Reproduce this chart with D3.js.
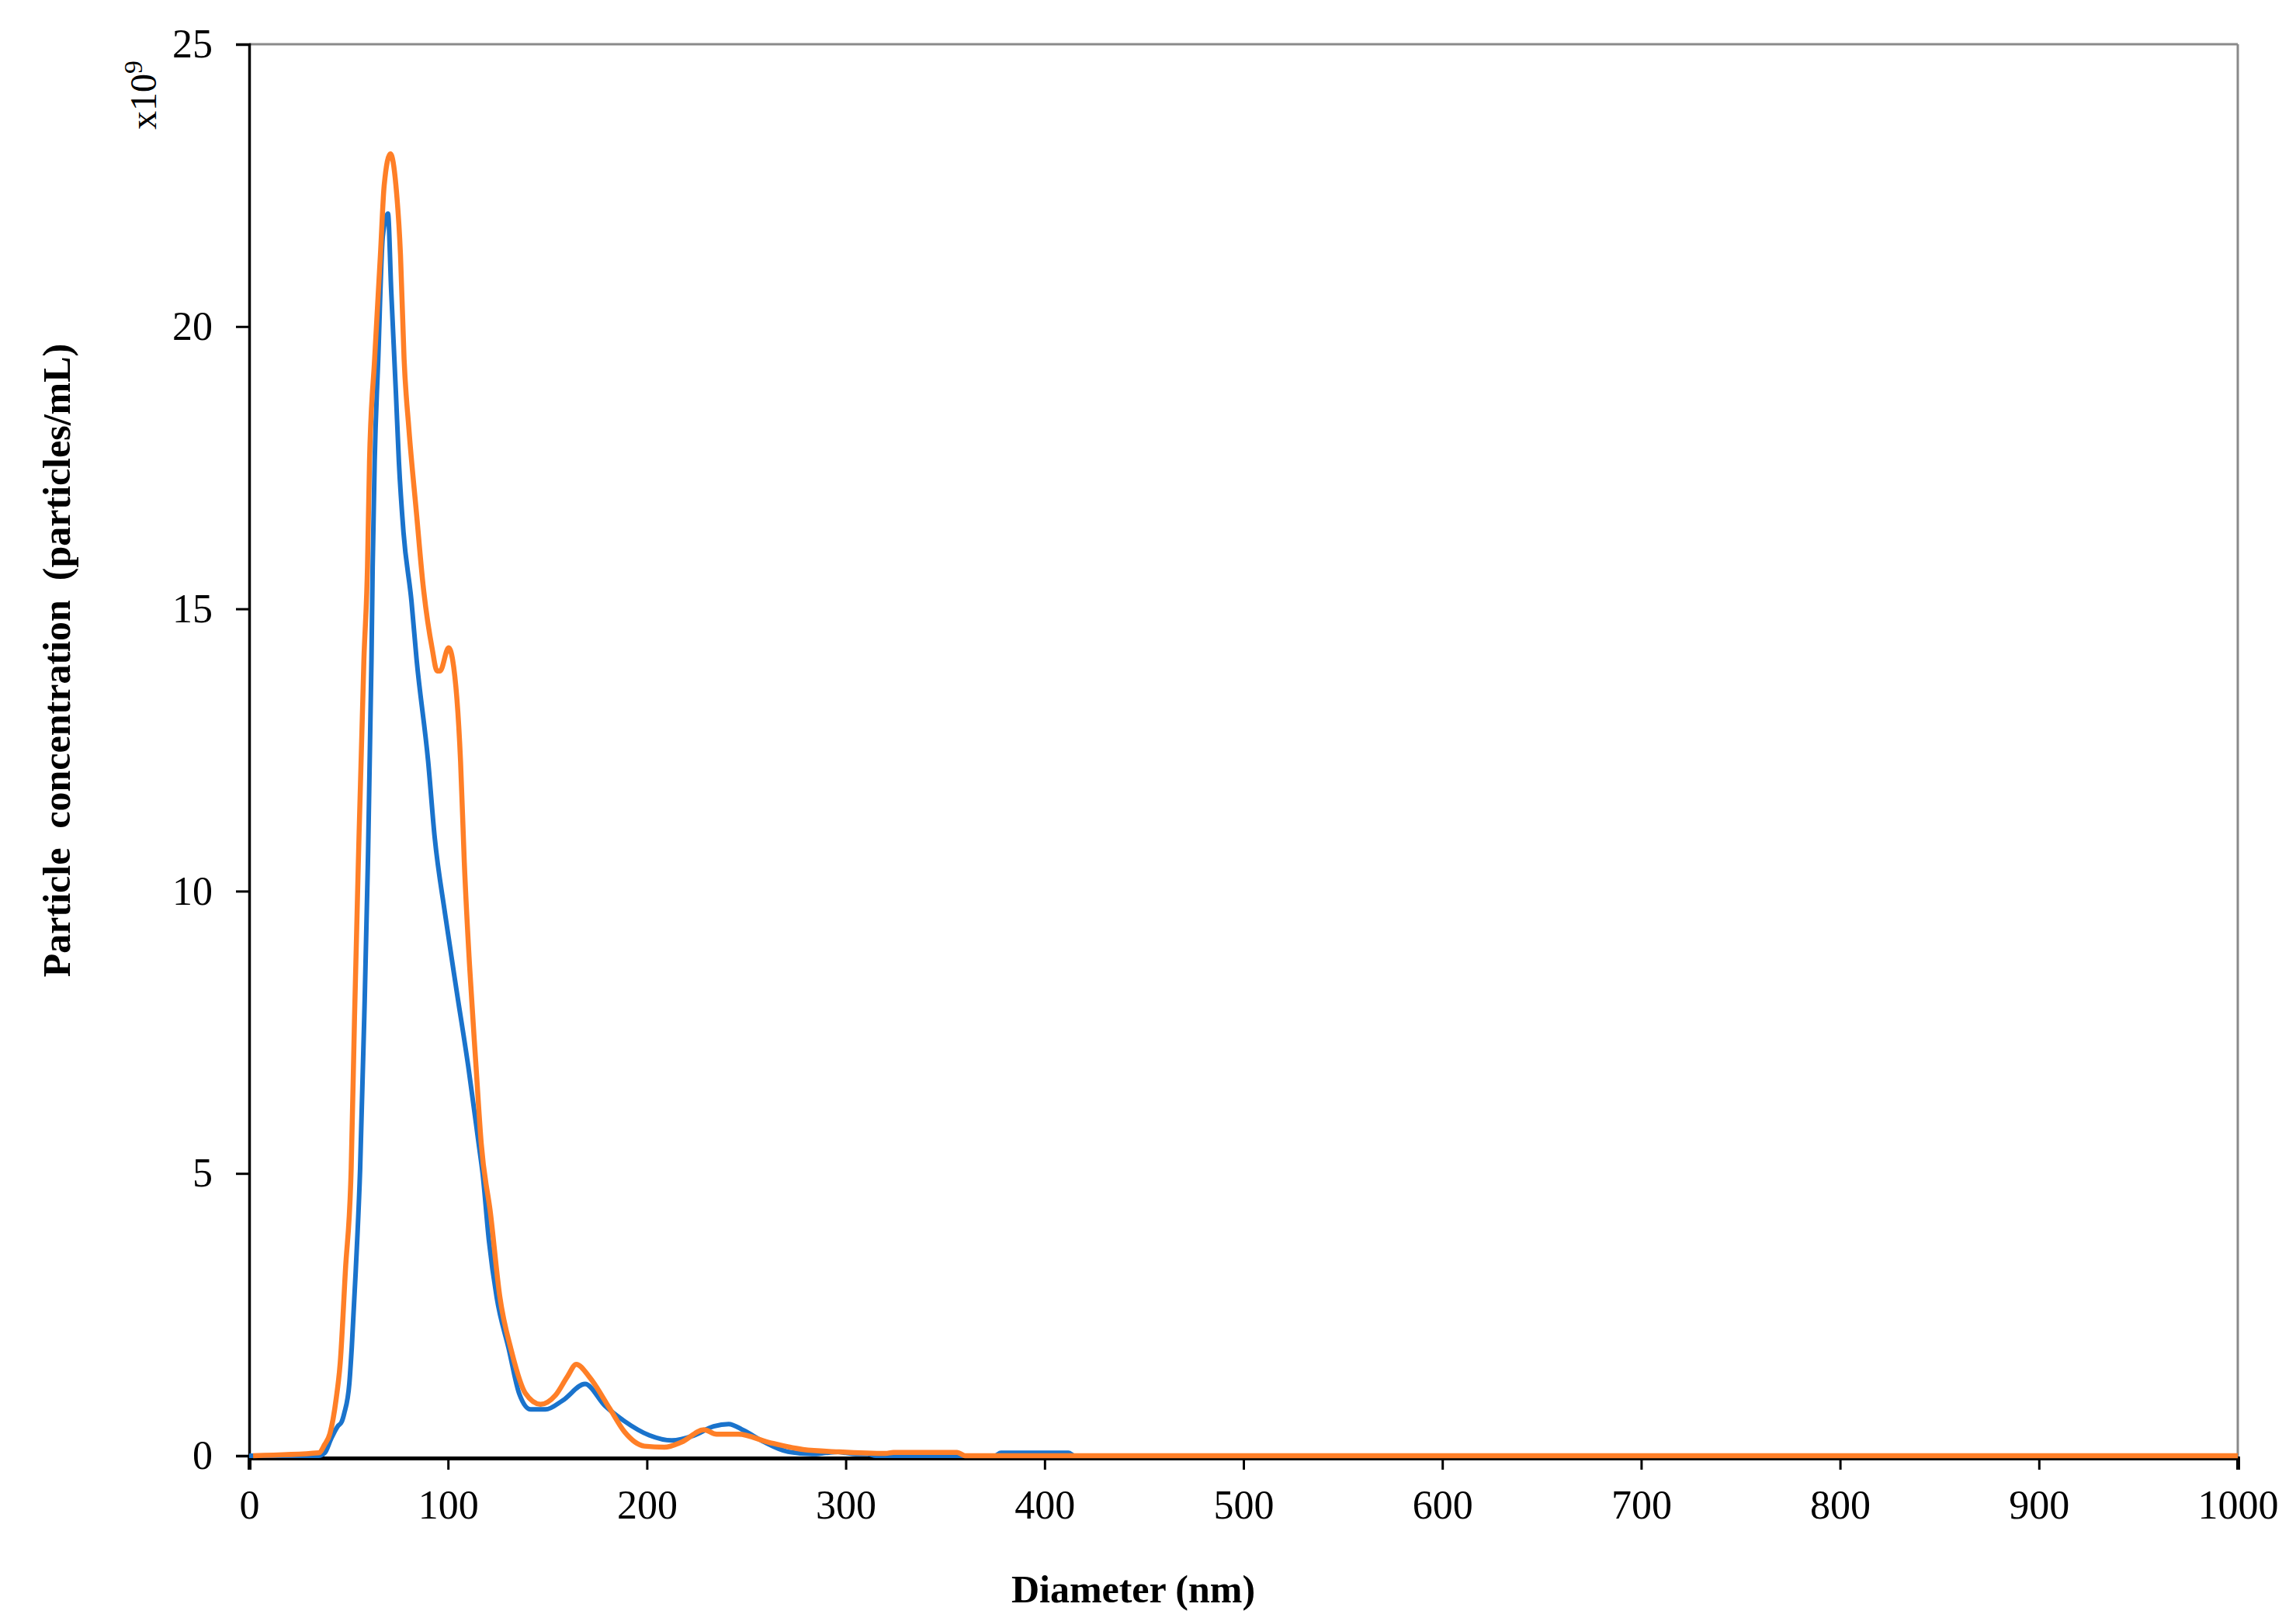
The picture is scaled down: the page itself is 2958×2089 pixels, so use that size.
<!DOCTYPE html>
<html><head><meta charset="utf-8">
<script src="https://cdn.jsdelivr.net/npm/d3@7/dist/d3.min.js"></script>
<style>html,body{margin:0;padding:0;background:#fff}</style>
</head><body>
<script>
// Diameter (nm) / concentration (x10^9 particles/mL)
const blueD = [0,5,35,38,41.2,44.5,46.5,47.8,50.4,51.6,53.6,55.8,57.9,59.7,61.5,62.1,63.1,64.9,67.2,69.8,71.4,73.8,75.3,77.6,81.6,84.2,90,93.3,98.5,104.3,110.2,115.4,117.4,120.6,124.5,130.5,135.8,141.6,149,157.7,168.9,178.8,188.8,201.3,212.5,223.7,233.6,241.1,248.6,258.6,271,283,290,296,300,305,311,315,375,378,412,415,1000];
const blueV = [0,0,0,0.05,0.3,0.52,0.6,0.75,1.29,1.92,3.28,5.08,7.79,10.5,14.1,15.75,17.6,19.43,21.6,22.0,20.66,18.82,17.6,16.36,15.14,14.1,12.3,10.95,9.6,8.24,6.89,5.53,5.0,3.8,2.8,1.9,1.1,0.82,0.82,0.98,1.27,0.89,0.61,0.36,0.27,0.36,0.52,0.56,0.45,0.25,0.07,0.03,0.05,0.07,0.05,0.03,0.03,0,0,0.05,0.05,0,0];
const orangeD = [2,35,38,40.6,43.8,45.8,48.4,51.3,53,54.9,57.7,59.5,60.5,63.1,66,67.9,71,73.8,76.1,77.9,80.3,84.2,87.4,92,94.5,96,100.3,102.3,106.3,108.2,110.8,114.1,116.7,121.4,126,131.8,139,146.5,154,160,164.5,171.4,181.4,188.8,198.7,208.8,217.4,228.7,235,246,261,278.5,296,320,324,356,360,1000];
const orangeV = [0,0.05,0.2,0.39,1.02,1.65,3.28,5.08,7.79,10.5,14.1,15.75,17.6,19.43,21.27,22.5,23.06,22.5,21.27,19.43,18.2,16.67,15.44,14.3,13.9,13.9,14.31,14.1,12.3,10.5,8.7,6.89,5.53,4.28,2.83,1.87,1.1,0.91,1.07,1.4,1.62,1.38,0.83,0.42,0.17,0.15,0.24,0.46,0.38,0.38,0.24,0.11,0.07,0.04,0.06,0.06,0,0];
const xTicks = [0,100,200,300,400,500,600,700,800,900,1000];
const yTicks = [0,5,10,15,20,25];

const W = 2958, H = 2089;
const L = 321, R = 2883, T = 57, B = 1876;
const svg = d3.select("body").append("svg").attr("width", W).attr("height", H)
  .style("font-family", "'Liberation Serif','Times New Roman',serif");

const x = d3.scaleLinear().domain([0,1000]).range([L,R]);
const y = d3.scaleLinear().domain([0,25]).range([B,T]);

// frame top/right
svg.append("line").attr("x1",L).attr("x2",R).attr("y1",T).attr("y2",T).attr("stroke","#8a8a8a").attr("stroke-width",3);
svg.append("line").attr("x1",R).attr("x2",R).attr("y1",T).attr("y2",B+3).attr("stroke","#8a8a8a").attr("stroke-width",3);

// y axis
const yAx = svg.append("g").attr("transform",`translate(${L},0)`)
  .call(d3.axisLeft(y).tickValues(yTicks).tickSize(17).tickPadding(30).tickFormat(d3.format("d")));
yAx.select(".domain").attr("stroke","#000").attr("stroke-width",3.5);
yAx.selectAll(".tick line").attr("stroke","#000").attr("stroke-width",3);
yAx.selectAll(".tick text").attr("font-size",52).attr("fill","#000").attr("font-family","'Liberation Serif',serif");

// x axis
const xAx = svg.append("g").attr("transform",`translate(0,${B+3})`)
  .call(d3.axisBottom(x).tickValues(xTicks).tickSize(15).tickPadding(26).tickFormat(d3.format("d")));
xAx.select(".domain").attr("stroke","#000").attr("stroke-width",5);
xAx.selectAll(".tick line").attr("stroke","#000").attr("stroke-width",3);
xAx.selectAll(".tick text").attr("font-size",52).attr("fill","#000").attr("font-family","'Liberation Serif',serif");

// lines
const line = d3.line().x(d=>x(d[0])).y(d=>y(d[1])).curve(d3.curveMonotoneX);
svg.append("path").datum(blueD.map((d,i)=>[d,blueV[i]]))
  .attr("d",line).attr("fill","none").attr("stroke","#1a73cc").attr("stroke-width",6).attr("stroke-linejoin","round");
svg.append("path").datum(orangeD.map((d,i)=>[d,orangeV[i]]))
  .attr("d",line).attr("fill","none").attr("stroke","#ff7f27").attr("stroke-width",6.5).attr("stroke-linejoin","round");

// titles
svg.append("text").attr("x",1460).attr("y",2065).attr("text-anchor","middle")
  .attr("font-size",50).attr("font-weight","bold").text("Diameter (nm)");
svg.append("text").attr("transform","translate(90,851) rotate(-90)").attr("text-anchor","middle")
  .attr("font-size",50).attr("font-weight","bold").style("white-space","pre")
  .text("Particle  concentration  (particles/mL)");
const ex = svg.append("text").attr("transform","translate(201,167) rotate(-90)").attr("text-anchor","start")
  .attr("font-size",48);
ex.append("tspan").text("x10");
ex.append("tspan").attr("dy",-18).attr("font-size",34).text("9");
</script>
</body></html>
